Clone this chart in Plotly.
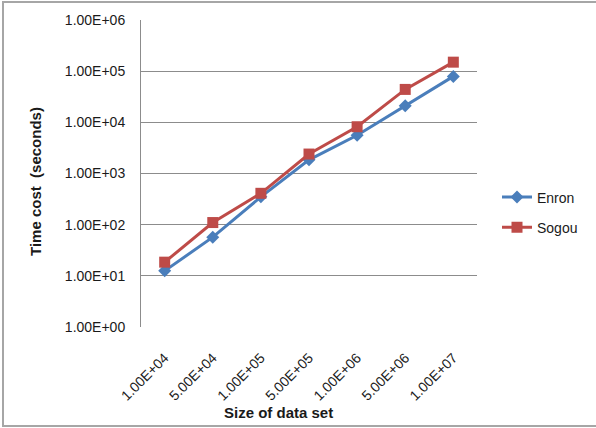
import plotly.graph_objects as go

# Data set sizes (category labels) and measured time costs in seconds
sizes = ["1.00E+04", "5.00E+04", "1.00E+05", "5.00E+05", "1.00E+06", "5.00E+06", "1.00E+07"]
enron = [12.5, 57, 350, 1850, 5600, 21000, 79000]
sogou = [18.5, 110, 410, 2400, 8200, 44000, 150000]

y_tickvals = [1, 10, 100, 1000, 10000, 100000, 1000000]
y_ticktext = ["1.00E+00", "1.00E+01", "1.00E+02", "1.00E+03", "1.00E+04", "1.00E+05", "1.00E+06"]

FONT = "Liberation Sans"
W, H = 596, 428
L, R, T, B = 141, 119, 20, 101
PW, PH = W - L - R, H - T - B


def px_x(x):
    return (x - L) / PW


def px_y(y):
    return (H - B - y) / PH


fig = go.Figure()
fig.add_trace(go.Scatter(
    x=sizes, y=enron, name="Enron", mode="lines+markers", legendgroup="enron",
    line=dict(color="#4a7ebb", width=3),
    marker=dict(symbol="diamond", size=10, color="#4a7ebb"),
))
fig.add_trace(go.Scatter(
    x=sizes, y=sogou, name="Sogou", mode="lines+markers", legendgroup="sogou",
    line=dict(color="#be4b48", width=3),
    marker=dict(symbol="square", size=11, color="#be4b48"),
))

fig.update_layout(
    width=W, height=H,
    margin=dict(l=L, r=R, t=T, b=B),
    paper_bgcolor="white", plot_bgcolor="white",
    font=dict(family=FONT, size=14, color="#1a1a1a"),
    showlegend=True,
    legend=dict(
        x=px_x(497), y=px_y(212.5), xanchor="left", yanchor="middle",
        font=dict(family=FONT, size=14, color="#1a1a1a"),
        tracegroupgap=9, bgcolor="rgba(0,0,0,0)",
    ),
    xaxis=dict(
        type="category", tickangle=-45, showgrid=False,
        showline=False, ticks="", ticklabelstandoff=19,
        tickfont=dict(family=FONT, size=14),
    ),
    yaxis=dict(
        type="log", range=[0, 6],
        tickvals=y_tickvals, ticktext=y_ticktext,
        showgrid=True, gridcolor="#8c8c8c", gridwidth=1,
        showline=True, linecolor="#8c8c8c", linewidth=1,
        zeroline=False, ticks="", ticklabelstandoff=12,
        tickfont=dict(family=FONT, size=14),
    ),
    annotations=[
        dict(text="<b>Size of data set</b>", xref="paper", yref="paper",
             x=px_x(278), y=px_y(412), xanchor="center", yanchor="middle",
             showarrow=False, font=dict(family=FONT, size=15, color="#1a1a1a")),
        dict(text="<b>Time cost  (seconds)</b>", xref="paper", yref="paper",
             x=px_x(35), y=px_y(182), xanchor="center", yanchor="middle", textangle=-90,
             showarrow=False, font=dict(family=FONT, size=15, color="#1a1a1a")),
    ],
    shapes=[dict(
        type="rect", xref="paper", yref="paper",
        x0=px_x(3), x1=px_x(620),
        y0=px_y(426), y1=px_y(2),
        line=dict(color="#a6a6a6", width=2), fillcolor="rgba(0,0,0,0)", layer="below",
    )],
)

fig.write_html("out.html")
